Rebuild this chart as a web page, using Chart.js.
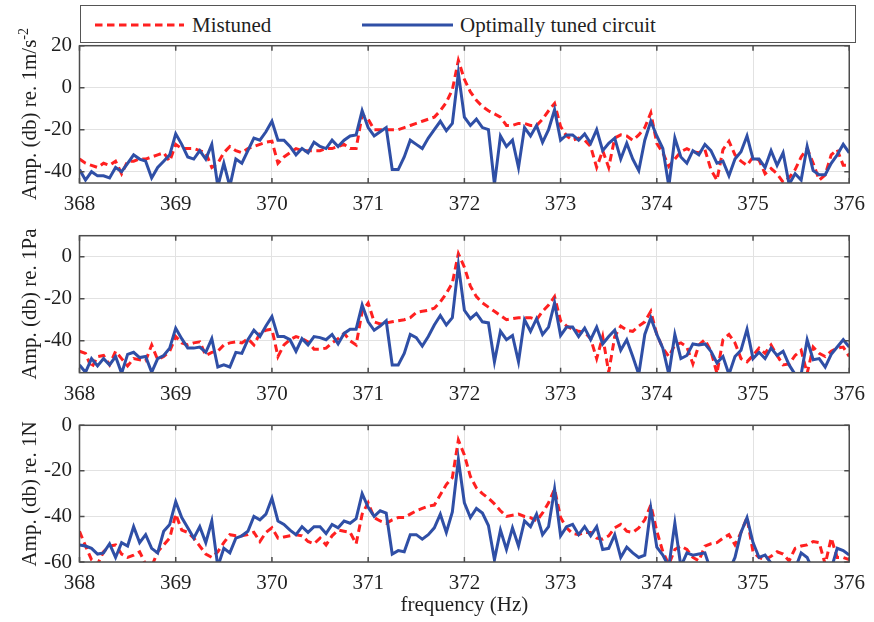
<!DOCTYPE html>
<html>
<head>
<meta charset="utf-8">
<script src="https://cdn.jsdelivr.net/npm/chart.js@4.4.1/dist/chart.umd.min.js"></script>
<style>
  html, body { margin: 0; padding: 0; background: #fff; }
  #page { position: relative; width: 874px; height: 622px; overflow: hidden; font-family: "Liberation Serif", serif; color: #1f1f1f; }
  .layer { position: absolute; left: 0; top: 0; }
  .ytitle { position: absolute; font-size: 21px; white-space: nowrap; transform: translate(-50%, -50%) rotate(-90deg); }
  .ytitle sup { font-size: 14px; }
  #legend { position: absolute; left: 80px; top: 5px; width: 776px; height: 38px; box-sizing: border-box; border: 1.5px solid #555; background: #fff; }
  .legtext { position: absolute; font-size: 21px; line-height: 21px; top: 15px; }
</style>
</head>
<body>
<div id="page">
  <canvas id="c1" class="layer" width="874" height="622"></canvas>
  <canvas id="c2" class="layer" width="874" height="622"></canvas>
  <canvas id="c3" class="layer" width="874" height="622"></canvas>

  <div id="legend"></div>
  <svg class="layer" width="874" height="50">
    <line x1="95" y1="25" x2="184" y2="25" stroke="#ff2020" stroke-width="3" stroke-dasharray="7.5 4.5"/>
    <line x1="362" y1="25" x2="453" y2="25" stroke="#2f4fa6" stroke-width="3"/>
  </svg>
  <div class="legtext" style="left:192px">Mistuned</div>
  <div class="legtext" style="left:460px">Optimally tuned circuit</div>

  <div class="ytitle" style="left:29px; top:114px">Amp. (db) re. 1m/s<sup>-2</sup></div>
  <div class="ytitle" style="left:29px; top:304px">Amp. (db) re. 1Pa</div>
  <div class="ytitle" style="left:29px; top:494px">Amp. (db) re. 1N</div>
</div>

<script>
// spectrum bins: 368 Hz upward, 1/16 Hz resolution
const freqStart = 368;
const binWidth = 0.0625;
const xTicks = [368, 369, 370, 371, 372, 373, 374, 375, 376];

// acceleration (dB re 1 m/s^-2)
const accTuned = [
  -39, -44, -40, -42, -42, -43, -38, -40, -36, -32, -34, -35, -43, -38, -35, -32,
  -22, -27, -33, -34, -30, -34, -27, -47, -36, -47, -34, -36, -30, -24, -25, -21,
  -16, -25, -25, -28, -32, -29, -31, -26, -28, -29, -25, -28, -25, -23, -22.5, -11,
  -19, -23, -21, -19, -39, -39, -33, -25, -27, -29, -24, -20, -16, -20.5, -17, 7,
  -14, -18, -15, -19, -20, -46, -23, -28, -25, -38, -19, -23, -18, -26, -20, -10.5,
  -25, -22.5, -22.5, -25, -22, -26.5, -20, -30, -26.5, -24, -34, -26.5, -34, -39.5, -25, -16,
  -23, -29, -47, -24, -33, -36, -30, -32, -27, -30, -36, -35, -42, -34, -30.5, -23,
  -34, -34, -38, -30, -37, -31, -46, -41, -44, -28, -39.5, -41.5, -41.5, -36, -32, -27, -31
];
const accMistuned = [
  -34, -36, -37, -38, -36, -37, -35, -41, -35, -35, -34, -34, -33, -32, -31, -35,
  -27, -29, -29, -29, -30, -31, -38, -36, -31, -28, -30, -31, -29, -28, -27, -26,
  -25.5, -36, -33, -31, -29, -30, -30, -30, -30, -29, -29, -28, -27, -29, -29, -13,
  -15, -20, -20, -20, -20, -20, -19, -18, -17, -16, -15, -14, -11, -7, -1, 13,
  4, -2, -6, -9, -11, -12.5, -14, -18, -18, -17, -17, -18, -18, -15, -11, -7.5,
  -18.5, -23, -25, -24, -25, -28, -38, -30, -38, -24, -22.5, -23, -25, -22.5, -19, -12,
  -26.5, -31, -37.5, -34, -30.5, -29, -30.5, -31, -29.5, -39, -44, -29.5, -25.5, -32, -35, -37,
  -33, -34.5, -41, -38.5, -41, -45, -43, -39, -33, -29, -36, -44, -41.5, -32, -29.5, -37, -37
];

// sound pressure (dB re 1 Pa)
const presTuned = [
  -51.5, -55, -48.5, -52, -48.5, -51.5, -47.5, -55.5, -46.5, -45.5, -48, -47.5, -55, -48.5, -47, -43.5,
  -34, -39, -43.5, -43.5, -43, -45.5, -39, -52.5, -51.5, -52.5, -45.5, -46, -39.5, -35, -38, -33,
  -28.5, -38, -38, -39.5, -45, -39, -42, -38, -38.5, -39.5, -37, -41.5, -36.5, -34.5, -34.5, -23,
  -31, -35, -33, -30.5, -51.5, -51.5, -46, -37, -38.5, -42.5, -38, -32.5, -28, -32.5, -29, -4,
  -25.5, -29.5, -27, -31, -31.5, -50, -35.5, -39.5, -37.5, -50, -30, -35.5, -29.5, -37, -33.5, -22,
  -37.5, -33.5, -33.5, -38, -34, -39.5, -33.5, -41.5, -38, -35, -44.5, -39.5, -47.5, -56, -37, -29,
  -37, -43.5, -56, -37, -48.5, -47, -41.5, -42, -41.5, -45, -50.5, -47.5, -56, -47.5, -44.5, -34.5,
  -48.5, -45.5, -48.5, -43.5, -47, -45, -51.5, -56, -56, -39.5, -49, -48.5, -52.5, -46.5, -43, -39.5, -43
];
const presMistuned = [
  -45, -46, -53, -47.5, -47, -51.5, -45, -48.5, -52, -48.5, -49, -49.5, -42, -49, -47.5, -45,
  -38, -41, -42, -41, -40.5, -47, -45.5, -45, -42, -41, -40.5, -41, -39, -42, -36.5, -35,
  -34.5, -47.5, -42, -39.5, -38, -39, -40.5, -44, -44, -43.5, -41, -39, -36.5, -40, -42, -26,
  -22, -31, -32, -31.5, -31, -30.5, -30, -29, -26.5, -26, -25.5, -24.5, -21.5, -17.5, -12.5, 1.5,
  -5, -14, -19, -22, -24, -26, -28, -30, -29.5, -29, -29, -29, -30, -26, -23, -19,
  -30.5, -33, -34.5, -35.5, -36, -39, -48.5, -38, -55, -38, -33, -35, -35.5, -33, -31, -26,
  -37, -43.5, -47.5, -42, -41, -43, -51, -42, -39.5, -45, -55.5, -39.5, -37, -41, -48.5, -50,
  -47, -43.5, -46, -42, -47, -51.5, -51, -47, -44.5, -55.5, -43, -46, -47.5, -45, -43.5, -43, -47.5
];

// force (dB re 1 N)
const forceTuned = [
  -52.5, -53, -54, -56.5, -56, -52, -58, -51.5, -53, -44.5, -51.5, -48, -54, -56, -46.5, -43.5,
  -33.5, -40.5, -45, -49.5, -44.5, -51.5, -42, -62, -54, -56, -49.5, -48.5, -46.5, -40, -41.5, -39,
  -32, -42, -43.5, -46, -48, -44.5, -47, -44.5, -44.5, -47.5, -43.5, -45, -42, -43, -41, -30,
  -36, -40, -37.5, -38.5, -56.5, -55, -55.5, -48, -48, -50, -48, -45, -39, -47, -38, -15,
  -34, -40.5, -36.5, -38.5, -44, -59, -46, -54.5, -45, -53, -42, -44.5, -39, -48, -44.5, -28,
  -48.5, -44.5, -43.5, -48, -44.5, -48.5, -44.5, -54.5, -54, -48, -58, -53.5, -56, -58, -57, -36.5,
  -53.5, -57, -62, -43, -62, -56, -57, -56.5, -56, -64, -68, -66, -64, -58, -47, -40.5,
  -51.5, -58, -57, -60.5, -64, -66, -64, -63, -56, -58, -64, -66, -63, -63, -54, -55, -57
];
const forceMistuned = [
  -46.5, -53, -59, -61, -55.5, -53, -52.5, -56.5, -58, -57, -55.5, -61, -62, -55.5, -52.5, -49.5,
  -39, -46, -47, -49.5, -53, -56.5, -58, -55.5, -51.5, -48, -48.5, -48.5, -48, -47, -51, -47,
  -45, -49.5, -49, -48.5, -48, -48.5, -51, -52, -49.5, -52.5, -48.5, -46, -46.5, -47, -52, -39,
  -34, -40.5, -42, -43, -41.5, -40.5, -40.5, -39, -37.5, -36.5, -35.5, -35, -30.5, -26, -23, -6.5,
  -13, -22.5, -27.5, -30, -32, -34.5, -37.5, -40, -39.5, -39, -40, -40.5, -42, -38.5, -34, -28,
  -40.5, -45, -47.5, -48, -47, -47, -49.5, -50, -48.5, -45, -43.5, -46.5, -47, -45, -41.5, -35,
  -46.5, -55.5, -61, -54.5, -53, -54.5, -58, -59.5, -53, -52, -51.5, -49.5, -48, -52.5, -47, -40.5,
  -55.5, -58, -59, -57.5, -55.5, -56.5, -59.5, -54, -53, -52.5, -51, -51.5, -61, -49.5, -58, -58, -59
];

const freqBins = accTuned.map((_, i) => freqStart + i * binWidth);

const FONT = { family: 'Liberation Serif', size: 21 };
const TEXT = '#1f1f1f';
const GRID = '#e2e2e2';
const BOX = '#4d4d4d';

// MATLAB-like axes: full box with inward tick marks
const axesBox = {
    id: 'axesBox',
    afterDraw(chart) {
        const { ctx, chartArea: a, scales: { x, y } } = chart;
        ctx.save();
        ctx.strokeStyle = BOX;
        ctx.lineWidth = 1.5;
        ctx.strokeRect(a.left, a.top, a.width, a.height);
        ctx.beginPath();
        x.ticks.forEach(t => {
            const px = x.getPixelForValue(t.value);
            ctx.moveTo(px, a.bottom); ctx.lineTo(px, a.bottom - 5);
            ctx.moveTo(px, a.top); ctx.lineTo(px, a.top + 5);
        });
        y.ticks.forEach(t => {
            const py = y.getPixelForValue(t.value);
            ctx.moveTo(a.left, py); ctx.lineTo(a.left + 5, py);
            ctx.moveTo(a.right, py); ctx.lineTo(a.right - 5, py);
        });
        ctx.stroke();
        ctx.restore();
    }
};

function pairs(values) {
    return values.map((v, i) => ({ x: freqBins[i], y: v }));
}

function makePanel(canvasId, tuned, mistuned, yMin, yMax, yTicks, plotTop, plotBottom, xHeight, xTitle) {
    const ctx = document.getElementById(canvasId).getContext('2d');
    return new Chart(ctx, {
        type: 'line',
        data: {
            datasets: [
                {
                    label: 'Mistuned',
                    data: pairs(mistuned),
                    borderColor: '#ff2020',
                    borderWidth: 3,
                    borderDash: [7.5, 4.5],
                    pointRadius: 0,
                    tension: 0,
                    clip: 0,
                    order: 1
                },
                {
                    label: 'Optimally tuned circuit',
                    data: pairs(tuned),
                    borderColor: '#2f4fa6',
                    borderWidth: 3,
                    pointRadius: 0,
                    tension: 0,
                    clip: 0,
                    order: 0
                }
            ]
        },
        options: {
            responsive: false,
            animation: false,
            events: [],
            layout: {
                autoPadding: false,
                padding: { left: 0, right: 18, top: plotTop, bottom: 622 - plotBottom - xHeight }
            },
            plugins: { legend: { display: false }, tooltip: { enabled: false } },
            scales: {
                x: {
                    type: 'linear',
                    min: 368,
                    max: 376,
                    afterBuildTicks: s => { s.ticks = xTicks.map(v => ({ value: v })); },
                    afterFit: s => { s.height = xHeight; },
                    grid: { color: GRID, drawTicks: false },
                    border: { display: false },
                    ticks: { font: FONT, color: TEXT, padding: 9, maxRotation: 0, minRotation: 0, autoSkip: false },
                    title: {
                        display: !!xTitle,
                        text: xTitle || '',
                        font: FONT,
                        color: TEXT,
                        padding: { top: 0, bottom: 4 }
                    }
                },
                y: {
                    min: yMin,
                    max: yMax,
                    afterBuildTicks: s => { s.ticks = yTicks.map(v => ({ value: v })); },
                    afterFit: s => { s.width = 79.5; },
                    grid: { color: GRID, drawTicks: false },
                    border: { display: false },
                    ticks: { font: FONT, color: TEXT, padding: 7.5 }
                }
            }
        },
        plugins: [axesBox]
    });
}

makePanel('c1', accTuned, accMistuned, -45.4, 20, [20, 0, -20, -40], 45.7, 183, 40);
makePanel('c2', presTuned, presMistuned, -55.2, 10, [0, -20, -40], 235.7, 372.7, 40);
makePanel('c3', forceTuned, forceMistuned, -60, 0, [0, -20, -40, -60], 425.3, 562, 60, 'frequency (Hz)');
</script>
</body>
</html>
